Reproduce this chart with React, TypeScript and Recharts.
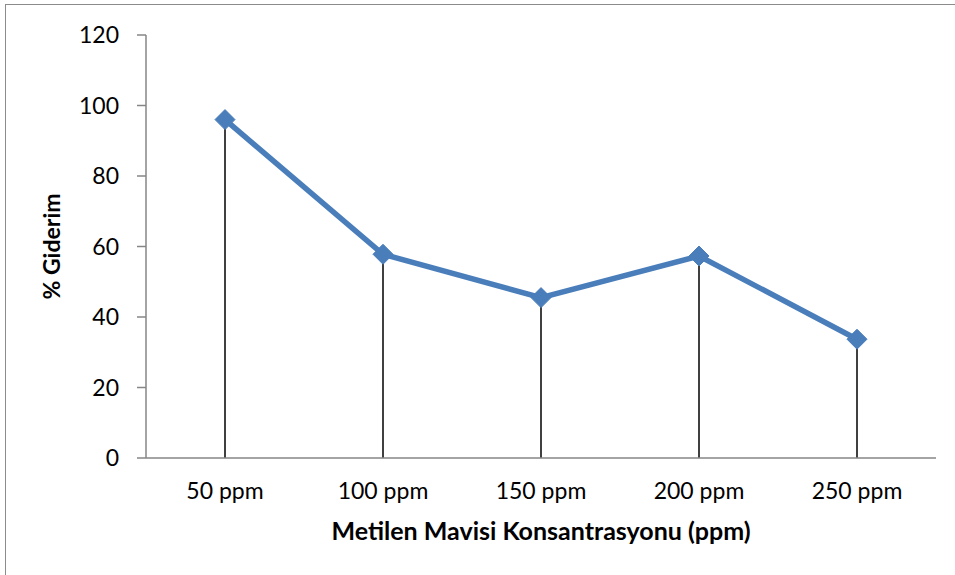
import { LineChart, Line, XAxis, YAxis, ReferenceLine, Label } from 'recharts';

const categories = ['50 ppm', '100 ppm', '150 ppm', '200 ppm', '250 ppm'];
const giderim = [96.0, 57.8, 45.5, 57.3, 33.7];
const yTicks = [0, 20, 40, 60, 80, 100, 120];

const data = categories.map((c, i) => ({ name: c, value: giderim[i] }));

const font = 'Lato, "Open Sans", sans-serif';
const axisGray = '#868686';

// Excel-style diamond marker
const Diamond = (props: any) => {
  const { cx, cy } = props;
  if (cx == null || cy == null) return null;
  const r = 10;
  return (
    <path
      d={`M${cx},${cy - r} L${cx + r},${cy} L${cx},${cy + r} L${cx - r},${cy} Z`}
      fill="#4A7EBB"
      stroke="#4A7EBB"
    />
  );
};

export default function App() {
  return (
    <div style={{ position: 'absolute', left: 0, top: 0, width: 955, height: 575, background: '#fff', overflow: 'hidden' }}>
      <div style={{ position: 'absolute', left: 5, top: 4, width: 960, height: 580, border: '1.5px solid #8c8c8c' }} />
      <div style={{ position: 'absolute', left: 0, top: 0 }}>
        <LineChart width={955} height={575} data={data} margin={{ top: 35, right: 19, bottom: 0, left: 0 }}>
          <XAxis
            dataKey="name"
            height={117}
            padding={{ left: 79, right: 79 }}
            tickLine={false}
            tickSize={0}
            tickMargin={25}
            axisLine={{ stroke: axisGray, strokeWidth: 1.5 }}
            tick={{ fontSize: 23, fontFamily: font, fill: '#000' }}
          >
            <Label
              value="Metilen Mavisi Konsantrasyonu (ppm)"
              position="insideTop"
              offset={64}
              style={{ fontSize: 25, fontFamily: font, fontWeight: 700, fill: '#000' }}
            />
          </XAxis>
          <YAxis
            width={146}
            domain={[0, 120]}
            ticks={yTicks}
            tickSize={9}
            tickMargin={18}
            axisLine={{ stroke: axisGray, strokeWidth: 1.5 }}
            tickLine={{ stroke: axisGray, strokeWidth: 1.5 }}
            tick={{ fontSize: 23, fontFamily: font, fill: '#000' }}
          >
            <Label
              value="% Giderim"
              angle={-90}
              position="center"
              dx={-21}
              style={{ fontSize: 23, fontFamily: font, fontWeight: 700, fill: '#000', textAnchor: 'middle' }}
            />
          </YAxis>
          <Line
            dataKey="value"
            stroke="#4A7EBB"
            strokeWidth={5.5}
            dot={<Diamond />}
            activeDot={false}
            isAnimationActive={false}
          />
          {data.map(d => (
            <ReferenceLine
              key={d.name}
              segment={[{ x: d.name, y: 0 }, { x: d.name, y: d.value }]}
              stroke="#000"
              strokeWidth={1.5}
            />
          ))}
        </LineChart>
      </div>
    </div>
  );
}
